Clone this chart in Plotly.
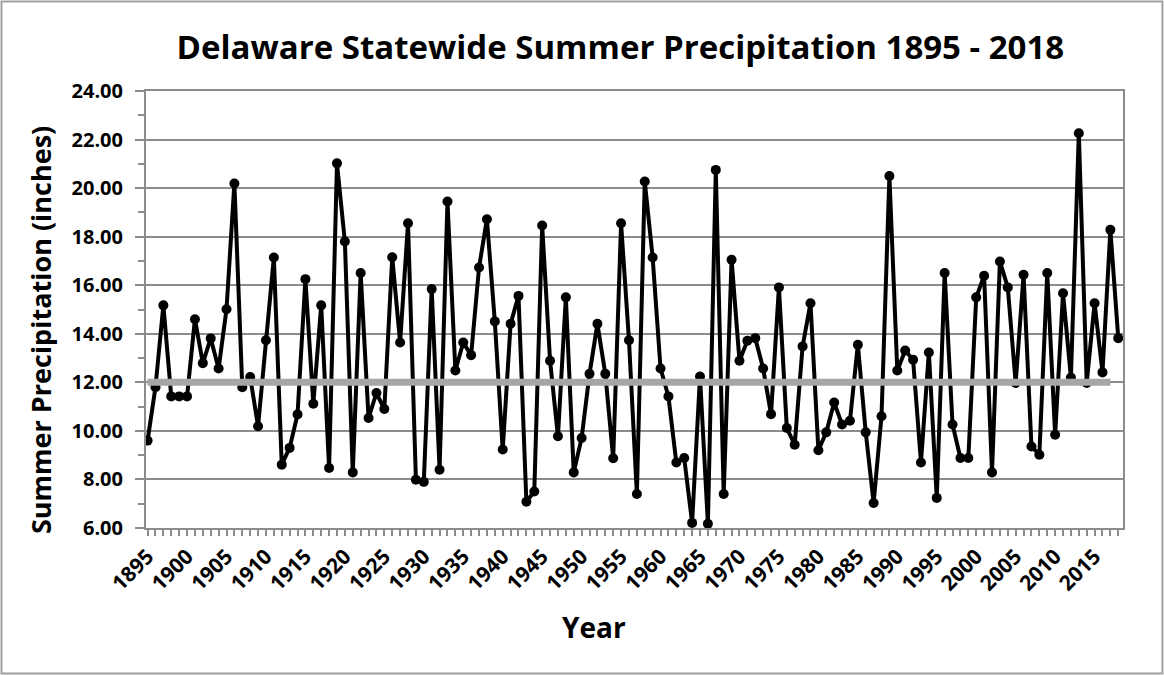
import plotly.graph_objects as go

# Delaware statewide summer precipitation, inches
years = list(range(1895, 2019))
precip = [
    9.60, 11.80, 15.17, 11.42, 11.42, 11.42, 14.60, 12.79, 13.81, 12.57,  # 1895-1904
    15.01, 20.19, 11.80, 12.22, 10.19, 13.73, 17.14, 8.61, 9.30, 10.68,   # 1905-1914
    16.25, 11.12, 15.17, 8.47, 21.02, 17.80, 8.29, 16.50, 10.53, 11.56,   # 1915-1924
    10.90, 17.15, 13.64, 18.55, 7.99, 7.90, 15.84, 8.40, 19.45, 12.49,    # 1925-1934
    13.64, 13.12, 16.73, 18.72, 14.51, 9.23, 14.41, 15.56, 7.08, 7.50,    # 1935-1944
    18.46, 12.89, 9.78, 15.50, 8.29, 9.71, 12.35, 14.41, 12.35, 8.87,     # 1945-1954
    18.55, 13.73, 7.40, 20.27, 17.14, 12.57, 11.42, 8.70, 8.88, 6.21,     # 1955-1964
    12.24, 6.17, 20.75, 7.40, 17.05, 12.89, 13.71, 13.82, 12.57, 10.69,   # 1965-1974
    15.91, 10.12, 9.43, 13.48, 15.26, 9.20, 9.94, 11.17, 10.26, 10.42,    # 1975-1984
    13.55, 9.94, 7.03, 10.60, 20.50, 12.49, 13.31, 12.93, 8.70, 13.23,    # 1985-1994
    7.24, 16.50, 10.26, 8.88, 8.88, 15.50, 16.39, 8.29, 16.98, 15.91,     # 1995-2004
    11.97, 16.43, 9.36, 9.02, 16.50, 9.84, 15.67, 12.20, 22.26, 11.97,    # 2005-2014
    15.26, 12.41, 18.28, 13.82,                                           # 2015-2018
]
avg_value = 12.0
avg_years = years[:-1]

font_family = "'Open Sans', sans-serif"
grid_color = "#8c8c8c"

fig = go.Figure()

# yearly values
fig.add_trace(go.Scatter(
    x=years, y=precip, mode="lines+markers", name="Summer precipitation",
    line=dict(color="black", width=4),
    marker=dict(color="black", size=10),
))

# long-term average
fig.add_trace(go.Scatter(
    x=avg_years, y=[avg_value] * len(avg_years), mode="lines", name="Average",
    line=dict(color="#a6a6a6", width=7),
))

fig.update_layout(
    width=1164, height=675,
    margin=dict(l=146, r=41, t=91, b=147),
    paper_bgcolor="white", plot_bgcolor="white",
    showlegend=False,
    font=dict(family=font_family, color="black"),
    title=dict(
        text="Delaware Statewide Summer Precipitation 1895 - 2018",
        x=0.533, xanchor="center", y=0.93, yanchor="middle",
        font=dict(size=33, color="black", weight="bold"),
    ),
    # outer chart border
    shapes=[dict(
        type="rect", xref="paper", yref="paper",
        x0=-0.1479, x1=1.0404, y0=-0.333, y1=1.2048,
        line=dict(color="#a0a0a0", width=2),
    )],
    # axis titles placed like the original (slightly off-centre)
    annotations=[
        dict(text="Year", xref="paper", yref="paper", x=0.4586, y=-0.2265,
             xanchor="center", yanchor="middle", showarrow=False,
             font=dict(size=28, weight="bold")),
        dict(text="Summer Precipitation (inches)", xref="paper", yref="paper",
             x=-0.1085, y=0.453, textangle=-90,
             xanchor="center", yanchor="middle", showarrow=False,
             font=dict(size=27, weight="bold")),
    ],
)

fig.update_xaxes(
    range=[1894.8, 2018.6],
    tick0=1895, dtick=5,
    tickangle=-45,
    tickfont=dict(size=21, weight="bold"),
    ticks="outside", ticklen=6, tickcolor=grid_color, tickwidth=1.5,
    minor=dict(dtick=1, ticks="outside", ticklen=6, tickcolor=grid_color, tickwidth=1.5),
    showline=True, linecolor=grid_color, linewidth=2,
    mirror=True,
    showgrid=False, zeroline=False,
)

fig.update_yaxes(
    range=[6, 24],
    tick0=6, dtick=2, tickformat=".2f",
    tickfont=dict(size=20, weight="bold"),
    ticks="outside", ticklen=9, tickcolor=grid_color, tickwidth=1.5,
    ticklabelstandoff=8,
    minor=dict(dtick=1, ticks="outside", ticklen=6, tickcolor=grid_color, tickwidth=1.5,
               showgrid=False),
    showline=True, linecolor=grid_color, linewidth=2,
    mirror=True,
    showgrid=True, gridcolor=grid_color, gridwidth=2,
    zeroline=False,
)

# page body margin off so the chart sits at the window origin
fig.write_html("out.html", config={"displayModeBar": False},
               post_script="document.body.style.margin='0';")
